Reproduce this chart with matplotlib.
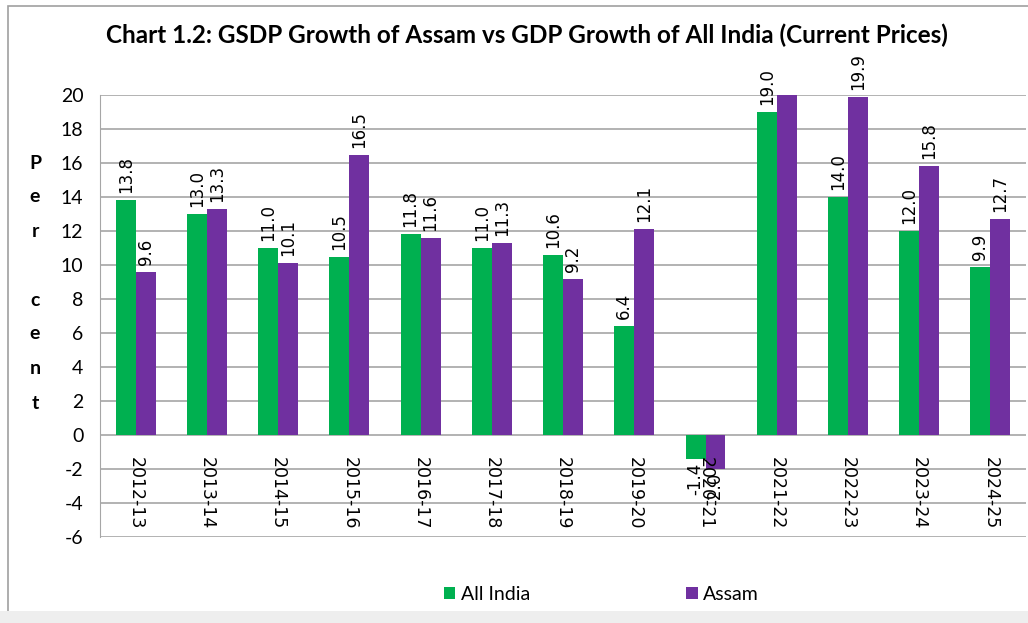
import matplotlib.pyplot as plt
from matplotlib.patches import Rectangle
import numpy as np

plt.rcParams['axes.unicode_minus'] = False

years = ['2012-13', '2013-14', '2014-15', '2015-16', '2016-17', '2017-18', '2018-19',
         '2019-20', '2020-21', '2021-22', '2022-23', '2023-24', '2024-25']
all_india = [13.8, 13.0, 11.0, 10.5, 11.8, 11.0, 10.6, 6.4, -1.4, 19.0, 14.0, 12.0, 9.9]
assam = [9.6, 13.3, 10.1, 16.5, 11.6, 11.3, 9.2, 12.1, -2.0, 21.4, 19.9, 15.8, 12.7]

green = '#00B050'
purple = '#7030A0'

fig = plt.figure(figsize=(10.28, 6.23), dpi=100)
fig.patches.append(Rectangle((0.008, -0.01), 0.995, 1.0, transform=fig.transFigure,
                             fill=False, edgecolor='#a0a0a0', lw=1.2))
fig.patches.append(Rectangle((0.0, 0.0), 1.0, 0.02, transform=fig.transFigure,
                             facecolor='#eeeeee', edgecolor='none'))

ax = fig.add_axes([0.0973, 0.138, 0.9008, 0.7095])
x = np.arange(len(years))
w = 0.28

ax.bar(x - w / 2, all_india, w, color=green, label='All India', zorder=3)
ax.bar(x + w / 2, assam, w, color=purple, label='Assam', zorder=3)

ax.set_ylim(-6, 20)
ax.set_xlim(-0.5, len(years) - 0.5)
ax.set_yticks(range(-6, 21, 2))
ax.yaxis.grid(True, color='#a6a6a6', lw=1.2, zorder=0)
ax.tick_params(axis='y', length=0, labelsize=14, pad=12)
for lab in ax.get_yticklabels():
    lab.set_family('Lato')
ax.set_xticks([])
for s in ['top', 'right', 'bottom']:
    ax.spines[s].set_visible(False)
ax.spines['left'].set_color('#a6a6a6')

# data labels
for xs, vals in [(x - w / 2, all_india), (x + w / 2, assam)]:
    for xi, v in zip(xs, vals):
        if v > 20:
            continue
        if v >= 0:
            ax.annotate(f'{v:.1f}', (xi, v), xytext=(0, 5), textcoords='offset points',
                        rotation=90, ha='center', va='bottom', fontsize=12, zorder=4)
        else:
            ax.annotate(f'{v:.1f}', (xi, v), xytext=(0, -3), textcoords='offset points',
                        rotation=90, ha='center', va='top', fontsize=12, zorder=4)

# category labels under the zero line
for xi, yr in zip(x, years):
    ax.annotate(yr, (xi, 0), xytext=(0, -16), textcoords='offset points',
                rotation=270, ha='center', va='top', fontsize=12.5, zorder=4)

# stacked y label
for ch, ypos in zip('Percent', [0.738, 0.684, 0.629, 0.518, 0.464, 0.408, 0.353]):
    fig.text(0.034, ypos, ch, fontsize=14, fontweight='bold', family='Lato',
             ha='center', va='center')

fig.text(0.513, 0.943, 'Chart 1.2: GSDP Growth of Assam vs GDP Growth of All India (Current Prices)',
         fontsize=17.5, fontweight='bold', family='Lato', ha='center', va='center')

fig.legend(loc='center', bbox_to_anchor=(0.585, 0.046), ncol=2, frameon=False,
           handlelength=0.6, handleheight=0.6, handletextpad=0.3, columnspacing=8,
           prop={'family': 'Lato', 'size': 14})

fig.savefig('out.png', dpi=100)
